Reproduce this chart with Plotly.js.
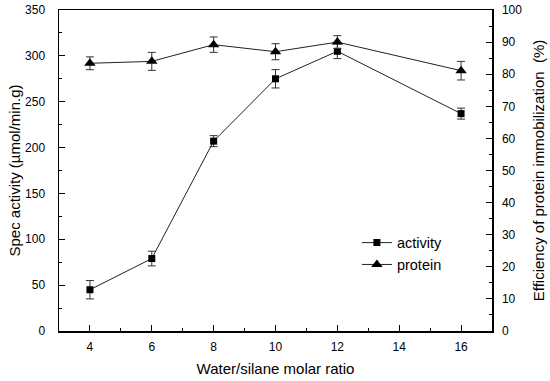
<!DOCTYPE html>
<html><head><meta charset="utf-8">
<script src="https://cdn.plot.ly/plotly-3.0.1.min.js"></script>
<style>body{margin:0;background:#fff}#c{width:550px;height:381px}</style>
</head><body><div id="c"></div>
<script>
const ratio = [4, 6, 8, 10, 12, 16];
const activity = [45, 79, 207, 275, 305, 237];
const activityErr = [10, 8, 6, 10, 8, 6];
const protein = [83.4, 84.0, 89.2, 87.0, 90.0, 81.1];
const proteinErr = [2.0, 2.8, 2.4, 2.5, 2.0, 2.9];

const font = {family: 'Liberation Sans, Arial, sans-serif', color: '#000'};
const f = s => Object.assign({size: s}, font);
const traces = [
  {x: ratio, y: activity, name: 'activity', type: 'scatter', mode: 'lines+markers',
   line: {color: '#222', width: 1}, marker: {symbol: 'square', size: 7, color: '#000'},
   error_y: {type: 'data', array: activityErr, visible: true, color: '#333', thickness: 1, width: 4}},
  {x: ratio, y: protein, name: 'protein', type: 'scatter', mode: 'lines+markers', yaxis: 'y2',
   line: {color: '#222', width: 1}, marker: {symbol: 'triangle-up', size: 10, color: '#000'},
   error_y: {type: 'data', array: proteinErr, visible: true, color: '#333', thickness: 1, width: 4}}
];
const layout = {
  width: 550, height: 381,
  margin: {l: 59, r: 58, t: 10, b: 50},
  paper_bgcolor: '#fff', plot_bgcolor: '#fff',
  font: f(12),
  showlegend: true,
  legend: {x: 0.688, y: 0.325, xanchor: 'left', yanchor: 'top', bgcolor: 'rgba(0,0,0,0)',
           font: f(14.5), tracegroupgap: 0},
  xaxis: {range: [3, 17], tickvals: [4, 6, 8, 10, 12, 14, 16], ticks: 'inside', ticklen: 6,
          tickcolor: '#000', showline: true, linecolor: '#000', linewidth: 1.5, mirror: true,
          showgrid: false, zeroline: false, ticklabelstandoff: 4,
          minor: {ticks: 'inside', dtick: 1, ticklen: 3, tickcolor: '#000', showgrid: false},
          tickfont: f(12),
          title: {text: 'Water/silane molar ratio', font: f(15), standoff: 10}},
  yaxis: {range: [0, 350], dtick: 50, ticks: 'inside', ticklen: 6, tickcolor: '#000',
          showline: true, linecolor: '#000', linewidth: 1.5, showgrid: false, zeroline: false,
          ticklabelstandoff: 10,
          minor: {ticks: 'inside', dtick: 25, ticklen: 3, tickcolor: '#000', showgrid: false},
          tickfont: f(12),
          title: {text: 'Spec activity (\u00b5mol/min.g)', font: f(15), standoff: 1}},
  yaxis2: {range: [0, 100], dtick: 10, overlaying: 'y', side: 'right', ticks: 'inside', ticklen: 6,
           tickcolor: '#000', showline: true, linecolor: '#000', linewidth: 1.5, showgrid: false, zeroline: false,
           ticklabelstandoff: 6,
           minor: {ticks: 'inside', dtick: 5, ticklen: 3, tickcolor: '#000', showgrid: false},
           tickfont: f(12),
           title: {text: 'Efficiency of protein immobilization  (%)', font: f(15), standoff: 12}}
};
Plotly.newPlot('c', traces, layout, {displayModeBar: false, staticPlot: true});
</script></body></html>
